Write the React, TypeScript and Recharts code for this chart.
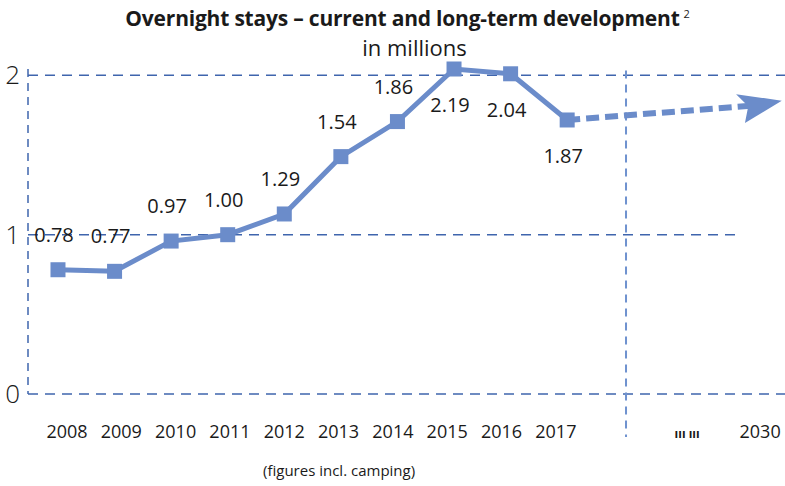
import React from 'react';
import { LineChart, Line, XAxis, YAxis, ReferenceLine, LabelList } from 'recharts';

const years = ['2008', '2009', '2010', '2011', '2012', '2013', '2014', '2015', '2016', '2017'];
const overnightStays = [0.78, 0.77, 0.96, 1.0, 1.13, 1.49, 1.71, 2.04, 2.01, 1.72];
const valueLabels = ['0.78', '0.77', '0.97', '1.00', '1.29', '1.54', '1.86', '2.19', '2.04', '1.87'];
const forecastPositions = [9, 12.27];
const forecastValues = [1.72, 1.81];
const extraTickPositions = [11.12, 12.41];
const extraTickLabels = ['ııı ııı', '2030'];
const yTicks = [0, 1, 2];

const LINE = '#6b8cca';
const GRID = '#3f65ad';
const VGRID = '#6f92cf';
const TEXT = '#1a1a1a';
const FONT = '"Open Sans", "Noto Sans", sans-serif';

const actualData = overnightStays.map((v, i) => ({ x: i, stays: v }));
const forecastData = forecastPositions.map((x, i) => ({ x, forecast: forecastValues[i] }));
const xTicks = [...years.map((_, i) => i), ...extraTickPositions];
const xTickLabel = (v: number) => {
  const yi = years.findIndex((_, i) => i === v);
  if (yi >= 0) return years[yi];
  const ei = extraTickPositions.indexOf(v);
  return ei >= 0 ? extraTickLabels[ei] : '';
};

const SquareDot = (props: any) => {
  const { cx, cy, index } = props;
  if (cx == null || cy == null) return <g key={index} />;
  return <rect key={index} x={cx - 7.5} y={cy - 7.5} width={15} height={15} fill={LINE} />;
};

let arrowStart: { cx: number; cy: number } | null = null;
const ArrowDot = (props: any) => {
  const { cx, cy, index } = props;
  if (index === 0) {
    arrowStart = { cx, cy };
    return <g key={index} />;
  }
  const s = arrowStart || { cx: cx - 100, cy };
  const ang = (Math.atan2(cy - s.cy, cx - s.cx) * 180) / Math.PI - 5;
  return (
    <g key={index} transform={`translate(${cx},${cy}) rotate(${ang})`}>
      <path d="M -4 0 L -14 -14 L 30 0 L -10 16 Z" fill={LINE} />
    </g>
  );
};

const ValueLabel = (props: any) => {
  const { x, y, index } = props;
  const above = index < 7;
  return (
    <text
      x={x - 4}
      y={above ? y - 28 : y + 43}
      textAnchor="middle"
      fontSize={20}
      fontFamily={FONT}
      fill={TEXT}
    >
      {valueLabels[index]}
    </text>
  );
};

const XTick = (props: any) => {
  const { x, y, payload } = props;
  const v = payload.value as number;
  const isYear = v <= 9 && Number.isInteger(v);
  const dx = isYear ? 9 - 2.26 * v : 0;
  const label = xTickLabel(v);
  const small = label === extraTickLabels[0];
  return (
    <text
      x={x + dx}
      y={y + 36}
      textAnchor="middle"
      fontSize={small ? 12 : 18}
      fontWeight={small ? 700 : 400}
      fontFamily={FONT}
      fill={TEXT}
    >
      {label}
    </text>
  );
};

const YTick = (props: any) => {
  const { x, y, payload } = props;
  return (
    <text x={x - 1} y={y + 9} textAnchor="end" fontSize={26} fontFamily={FONT} fontWeight={300} fill={TEXT}>
      {payload.value}
    </text>
  );
};

export default function App() {
  return (
    <div style={{ position: 'absolute', left: 0, top: 0, width: 785, height: 486, background: '#fff', fontFamily: FONT }}>
      <div
        style={{
          position: 'absolute',
          left: 0,
          width: 785,
          top: 4,
          textAlign: 'center',
          fontSize: 21,
          fontWeight: 700,
          color: TEXT,
          paddingLeft: 30,
          boxSizing: 'border-box',
          whiteSpace: 'nowrap',
          letterSpacing: -0.2,
        }}
      >
        Overnight stays – current and long-term development
        <sup style={{ fontSize: 11, fontWeight: 400, marginLeft: 4 }}>2</sup>
      </div>
      <div
        style={{
          position: 'absolute',
          left: 0,
          width: 785,
          top: 32,
          textAlign: 'center',
          fontSize: 22,
          fontWeight: 400,
          color: TEXT,
          paddingLeft: 44,
          boxSizing: 'border-box',
        }}
      >
        in millions
      </div>
      <LineChart width={785} height={486} margin={{ top: 69, right: 0, bottom: 52, left: 0 }}>
        <XAxis
          type="number"
          dataKey="x"
          domain={[-0.53, 12.85]}
          allowDataOverflow
          ticks={xTicks}
          interval={0}
          tick={<XTick />}
          axisLine={false}
          tickLine={false}
          height={40}
        />
        <YAxis
          type="number"
          domain={[0, 2]}
          ticks={yTicks}
          width={28}
          tickLine={false}
          tickSize={0}
          tickMargin={7}
          axisLine={{ stroke: GRID, strokeWidth: 1.5, strokeDasharray: '8 6' }}
          tick={<YTick />}
        />
        <ReferenceLine y={2} stroke={GRID} strokeWidth={1.5} strokeDasharray="10 7" />
        <ReferenceLine
          segment={[{ x: -0.53, y: 1 }, { x: 11.97, y: 1 }]}
          stroke={GRID}
          strokeWidth={1.5}
          strokeDasharray="10 7"
        />
        <ReferenceLine y={0} stroke={GRID} strokeWidth={1.5} strokeDasharray="10 7" />
        <ReferenceLine
          segment={[{ x: 10.04, y: 2.03 }, { x: 10.04, y: -0.27 }]}
          ifOverflow="visible"
          stroke={VGRID}
          strokeWidth={2}
          strokeDasharray="8 6"
        />
        <Line
          data={forecastData}
          dataKey="forecast"
          stroke={LINE}
          strokeWidth={6}
          strokeDasharray="13 6"
          dot={(p: any) => <ArrowDot {...p} />}
          activeDot={false}
          isAnimationActive={false}
          type="linear"
        />
        <Line
          data={actualData}
          dataKey="stays"
          stroke={LINE}
          strokeWidth={5}
          dot={(p: any) => <SquareDot {...p} />}
          activeDot={false}
          isAnimationActive={false}
          type="linear"
        >
          <LabelList dataKey="stays" content={<ValueLabel />} />
        </Line>
      </LineChart>
      <div
        style={{
          position: 'absolute',
          left: 263,
          top: 460,
          fontSize: 15,
          color: TEXT,
          whiteSpace: 'nowrap',
        }}
      >
        (figures incl. camping)
      </div>
    </div>
  );
}
